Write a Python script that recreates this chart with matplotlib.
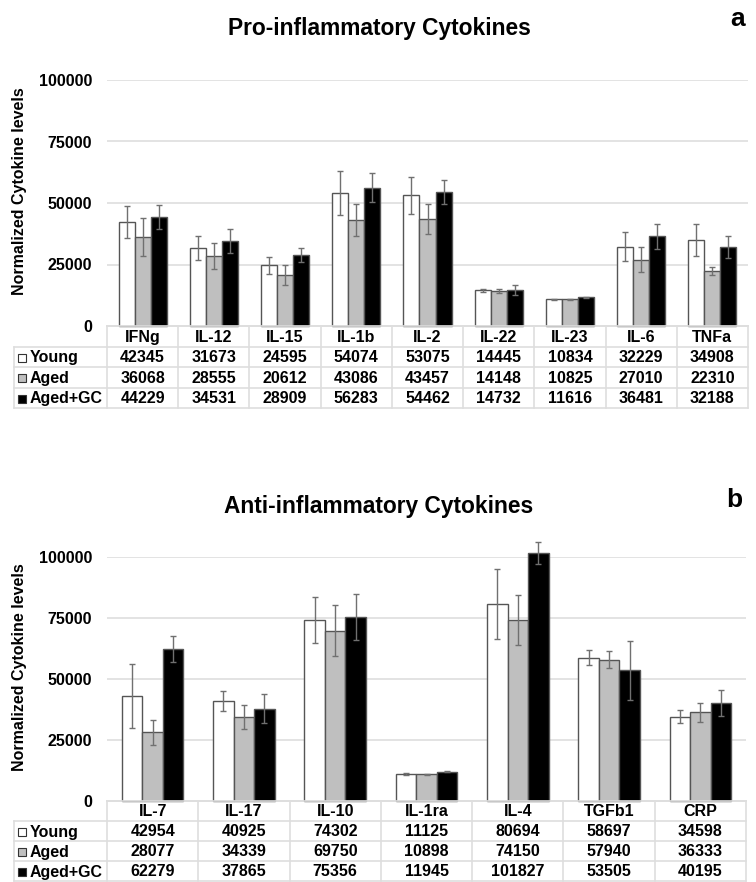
import matplotlib
matplotlib.use('Agg')
import matplotlib.pyplot as plt
from matplotlib.patches import Rectangle
import numpy as np

plt.rcParams['font.family'] = ['Liberation Sans', 'DejaVu Sans']
plt.rcParams['font.weight'] = 'bold'

# ── Data ────────────────────────────────────────────────────────────────
GROUPS = ['Young', 'Aged', 'Aged+GC']

PRO_CATS  = ['IFNg', 'IL-12', 'IL-15', 'IL-1b', 'IL-2', 'IL-22', 'IL-23', 'IL-6', 'TNFa']
PRO_YOUNG = [42345, 31673, 24595, 54074, 53075, 14445, 10834, 32229, 34908]
PRO_AGED  = [36068, 28555, 20612, 43086, 43457, 14148, 10825, 27010, 22310]
PRO_GC    = [44229, 34531, 28909, 56283, 54462, 14732, 11616, 36481, 32188]
PRO_ERR_YOUNG = [6400, 4900, 3400, 9000, 7500, 500, 300, 5800, 6500]
PRO_ERR_AGED  = [7750, 5300, 4100, 6500, 6000, 800, 300, 5000, 1500]
PRO_ERR_GC    = [4800, 4800, 2700, 6000, 5000, 2000, 200, 5000, 4500]

ANTI_CATS  = ['IL-7', 'IL-17', 'IL-10', 'IL-1ra', 'IL-4', 'TGFb1', 'CRP']
ANTI_YOUNG = [42954, 40925, 74302, 11125, 80694, 58697, 34598]
ANTI_AGED  = [28077, 34339, 69750, 10898, 74150, 57940, 36333]
ANTI_GC    = [62279, 37865, 75356, 11945, 101827, 53505, 40195]
ANTI_ERR_YOUNG = [13000, 4000, 9500, 300, 14300, 3000, 2500]
ANTI_ERR_AGED  = [5000, 5000, 10500, 300, 10200, 3500, 4000]
ANTI_ERR_GC    = [5500, 6000, 9500, 200, 4500, 12000, 5500]

YTICKS = [0, 25000, 50000, 75000, 100000]
# ────────────────────────────────────────────────────────────────────────

FACE   = ['white', '#bfbfbf', 'black']
EDGE   = '#555555'
GRID   = '#dedede'
W, H   = 756, 882
BAR_W  = 0.225
FS     = 11.5


def fig_rect(x0, y0, x1, y1):
    # pixel box (top-left origin) -> figure fraction rect
    return [x0 / W, 1 - y1 / H, (x1 - x0) / W, (y1 - y0) / H]


def draw_panel(fig, cats, vals, errs, title, letter, plot_box, table_bottom, label_left, letter_xy):
    x0, y0, x1, y1 = plot_box
    n = len(cats)
    ax = fig.add_axes(fig_rect(x0, y0, x1, y1))
    x = np.arange(n)
    for k in range(3):
        bars = ax.bar(x + (k - 1) * BAR_W, vals[k], BAR_W, color=FACE[k],
                      edgecolor=EDGE, linewidth=1.0, zorder=3,
                      yerr=errs[k], ecolor='#707070', capsize=2,
                      error_kw=dict(elinewidth=1.0, capthick=1.0, zorder=4))
        for p in bars.patches:
            p.set_clip_on(False)
        for art in bars.errorbar.lines[1] + bars.errorbar.lines[2]:
            art.set_clip_on(False)
    ax.set_xlim(-0.5, n - 0.5)
    ax.set_ylim(0, 100000)
    ax.set_yticks(YTICKS)
    ax.set_yticklabels([str(t) for t in YTICKS], fontsize=FS, fontweight='bold')
    ax.tick_params(axis='y', length=0, pad=10.8)
    ax.set_xticks([])
    for t in YTICKS[1:]:
        ax.axhline(t, color=GRID, lw=1.2, zorder=1)
    for s in ['top', 'right', 'left']:
        ax.spines[s].set_visible(False)
    ax.spines['bottom'].set_color(GRID)
    ax.spines['bottom'].set_linewidth(1.2)
    ax.set_ylabel('Normalized Cytokine levels', fontsize=FS, fontweight='bold')
    ax.yaxis.set_label_coords(-(x0 - 27) / (x1 - x0), 0.55)

    # title + panel letter
    fig.text(379 / W, 1 - (y0 - 51) / H, title,
             fontsize=16.4, fontweight='bold', ha='center', va='center')
    fig.text(letter_xy[0] / W, 1 - letter_xy[1] / H, letter,
             fontsize=19, fontweight='bold', ha='center', va='center')

    # data table underneath
    col_w = (x1 - x0) / n
    row_h = (table_bottom - y1) / 4
    extra = (x0 - label_left) / col_w
    tx = fig.add_axes(fig_rect(label_left, y1, x1, table_bottom))
    tx.set_xlim(-0.5 - extra, n - 0.5)
    tx.set_ylim(4, 0)
    tx.axis('off')
    lc = dict(color=GRID, lw=1.2, clip_on=False)
    tx.plot([-0.5, n - 0.5], [0, 0], **lc)
    for r in [1, 2, 3, 4]:
        tx.plot([-0.5 - extra, n - 0.5], [r, r], **lc)
    tx.plot([-0.5 - extra, -0.5 - extra], [1, 4], **lc)
    for c in range(n + 1):
        tx.plot([c - 0.5, c - 0.5], [0, 4], **lc)
    for i, c in enumerate(cats):
        tx.text(i, 0.55, c, ha='center', va='center', fontsize=FS, fontweight='bold')
        for k in range(3):
            tx.text(i, k + 1.55, str(vals[k][i]), ha='center', va='center',
                    fontsize=FS, fontweight='bold')
    sq_w = 8 / col_w
    sq_h = 8 / row_h
    for k, g in enumerate(GROUPS):
        xl = -0.5 - extra + 4 / col_w
        tx.add_patch(Rectangle((xl, k + 1.55 - sq_h / 2), sq_w, sq_h,
                               facecolor=FACE[k], edgecolor='#333333', lw=0.8))
        tx.text(xl + 12 / col_w, k + 1.55, g, ha='left', va='center',
                fontsize=FS, fontweight='bold')
    return ax


fig = plt.figure(figsize=(W / 100, H / 100), dpi=100)

draw_panel(fig, PRO_CATS,
           [PRO_YOUNG, PRO_AGED, PRO_GC],
           [PRO_ERR_YOUNG, PRO_ERR_AGED, PRO_ERR_GC],
           'Pro-inflammatory Cytokines', 'a',
           (107, 80, 748, 326), 408, 14, (738, 19))

draw_panel(fig, ANTI_CATS,
           [ANTI_YOUNG, ANTI_AGED, ANTI_GC],
           [ANTI_ERR_YOUNG, ANTI_ERR_AGED, ANTI_ERR_GC],
           'Anti-inflammatory Cytokines', 'b',
           (107, 557, 746, 801), 881, 14, (734, 500))

fig.savefig('out.png', dpi=100)
